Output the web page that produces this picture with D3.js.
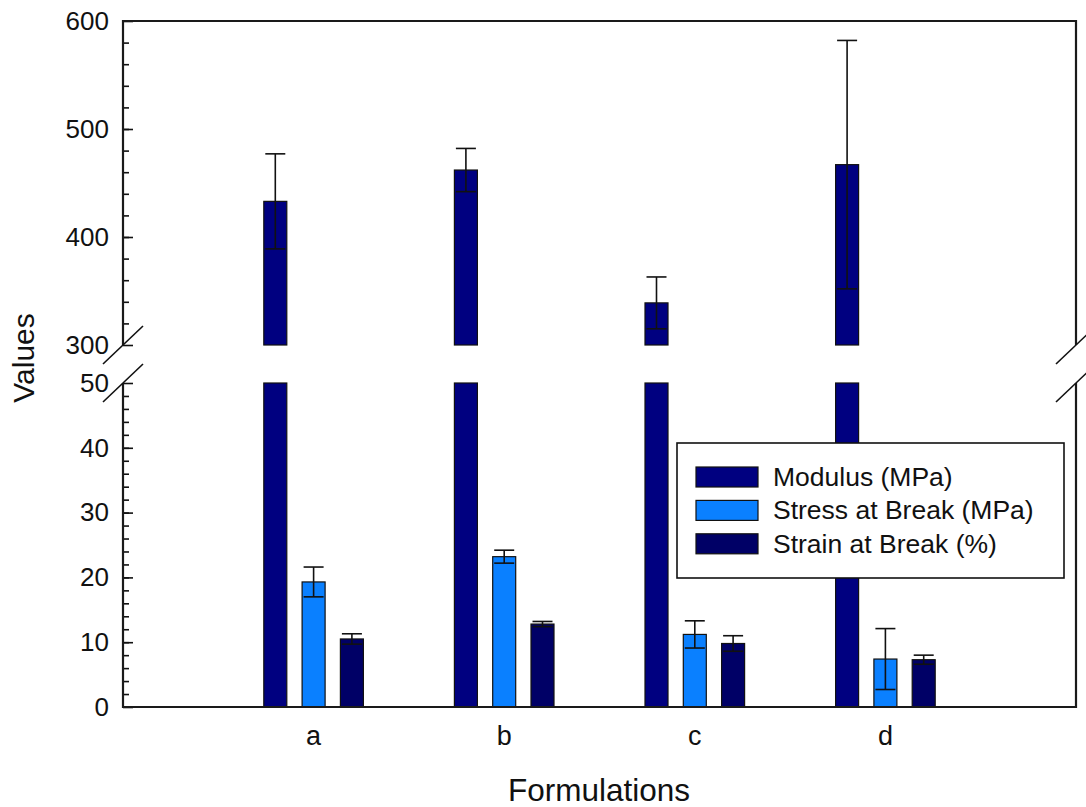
<!DOCTYPE html>
<html>
<head>
<meta charset="utf-8">
<script src="https://cdn.jsdelivr.net/npm/d3@7"></script>
<style>
  body { margin: 0; background: #fff; }
  text { font-family: 'Liberation Sans', Arial, sans-serif; fill: #111; }
</style>
</head>
<body>
<div id="chart"></div>
<script>
// data
let formulations = ['a', 'b', 'c', 'd']
let seriesNames = ['Modulus (MPa)', 'Stress at Break (MPa)', 'Strain at Break (%)']
let modulus = [433, 462, 339, 467]
let modulusErr = [44, 20, 24, 115]
let stress = [19.3, 23.2, 11.2, 7.4]
let stressErr = [2.3, 1.0, 2.1, 4.7]
let strain = [10.5, 12.8, 9.8, 7.3]
let strainErr = [0.8, 0.4, 1.2, 0.7]
let seriesColors = ['#000080', '#0a80ff', '#000066']

let upperTicks = [300, 400, 500, 600]
let lowerTicks = [0, 10, 20, 30, 40, 50]

let width = 1086
let height = 807
let margin = { top: 21, left: 123, right: 10, bottom: 100 }
let plotRight = 1076
let plotBottom = 707
let gapTop = 345
let gapBottom = 383

let svg = d3
  .select('#chart')
  .append('svg')
  .attr('width', width)
  .attr('height', height)

let x = d3
  .scalePoint()
  .domain(formulations)
  .range([margin.left, plotRight])
  .padding(1)

let xSeries = d3
  .scalePoint()
  .domain(seriesNames)
  .range([-38.3, 38.3])

let barWidth = 23

let yUpper = d3.scaleLinear().domain([300, 600]).range([gapTop, margin.top])
let yLower = d3.scaleLinear().domain([0, 50]).range([plotBottom, gapBottom])

let series = [
  { name: seriesNames[0], values: modulus, errs: modulusErr, color: seriesColors[0] },
  { name: seriesNames[1], values: stress, errs: stressErr, color: seriesColors[1] },
  { name: seriesNames[2], values: strain, errs: strainErr, color: seriesColors[2] }
]

// flatten into bar records
let bars = []
series.forEach(s => {
  formulations.forEach((f, i) => {
    bars.push({ series: s.name, cat: f, value: s.values[i], err: s.errs[i], color: s.color })
  })
})

let barX = d => x(d.cat) + xSeries(d.series) - barWidth / 2

// lower segment
svg
  .selectAll('.bar-lower')
  .data(bars)
  .enter()
  .append('rect')
  .attr('class', 'bar-lower')
  .attr('x', barX)
  .attr('width', barWidth)
  .attr('y', d => yLower(Math.min(d.value, 50)))
  .attr('height', d => yLower(0) - yLower(Math.min(d.value, 50)))
  .attr('fill', d => d.color)
  .attr('stroke', '#111')
  .attr('stroke-width', 1.2)

// upper segment, only the big ones
let bigBars = bars.filter(d => d.value > 300)
svg
  .selectAll('.bar-upper')
  .data(bigBars)
  .enter()
  .append('rect')
  .attr('class', 'bar-upper')
  .attr('x', barX)
  .attr('width', barWidth)
  .attr('y', d => yUpper(d.value))
  .attr('height', d => yUpper(300) - yUpper(d.value))
  .attr('fill', d => d.color)
  .attr('stroke', '#111')
  .attr('stroke-width', 1.2)

// error bars
let yFor = v => (v > 300 ? yUpper(v) : yLower(v))
let capHalf = 10
let errG = svg
  .selectAll('.err')
  .data(bars)
  .enter()
  .append('g')
  .attr('class', 'err')
  .attr('stroke', '#111')
  .attr('stroke-width', 1.6)
  .attr('transform', d => `translate(${x(d.cat) + xSeries(d.series)},0)`)

errG.append('line')
  .attr('y1', d => yFor(d.value + d.err))
  .attr('y2', d => yFor(d.value - d.err))
errG.append('line')
  .attr('x1', -capHalf).attr('x2', capHalf)
  .attr('y1', d => yFor(d.value + d.err))
  .attr('y2', d => yFor(d.value + d.err))
errG.append('line')
  .attr('x1', -capHalf).attr('x2', capHalf)
  .attr('y1', d => yFor(d.value - d.err))
  .attr('y2', d => yFor(d.value - d.err))

// axes
function styleAxis(g) {
  g.select('.domain').remove()
  g.selectAll('line').attr('stroke', '#111').attr('stroke-width', 1.6)
  g.selectAll('text').attr('font-size', 26).attr('fill', '#111')
    .attr('font-family', "'Liberation Sans', Arial, sans-serif")
}

svg.append('g')
  .attr('transform', `translate(${margin.left},0)`)
  .call(d3.axisLeft(yUpper).tickValues(d3.range(320, 600, 20)).tickSize(-6).tickFormat(''))
  .call(styleAxis)
svg.append('g')
  .attr('transform', `translate(${margin.left},0)`)
  .call(d3.axisLeft(yUpper).tickValues(upperTicks).tickSize(-10).tickPadding(14))
  .call(styleAxis)
svg.append('g')
  .attr('transform', `translate(${margin.left},0)`)
  .call(d3.axisLeft(yLower).tickValues(d3.range(2, 50, 2)).tickSize(-6).tickFormat(''))
  .call(styleAxis)
svg.append('g')
  .attr('transform', `translate(${margin.left},0)`)
  .call(d3.axisLeft(yLower).tickValues(lowerTicks).tickSize(-10).tickPadding(14))
  .call(styleAxis)

// frame with the break
let frame = svg.append('g').attr('stroke', '#1a1a1a').attr('stroke-width', 2.2).attr('fill', 'none')
frame.append('path').attr('d', `M${margin.left},${gapTop}V${margin.top}H${plotRight}V${gapTop}`)
frame.append('path').attr('d', `M${margin.left},${gapBottom}V${plotBottom}H${plotRight}V${gapBottom}`)

// break marks
let breaks = []
;[margin.left, plotRight].forEach(ax => {
  breaks.push({ x: ax, y: yUpper(300) })
  breaks.push({ x: ax, y: yLower(50) })
})
svg
  .selectAll('.brk')
  .data(breaks)
  .enter()
  .append('line')
  .attr('class', 'brk')
  .attr('x1', d => d.x - 20)
  .attr('y1', d => d.y + 19)
  .attr('x2', d => d.x + 20)
  .attr('y2', d => d.y - 19)
  .attr('stroke', '#111')
  .attr('stroke-width', 1.6)

// x labels
svg
  .selectAll('.xlab')
  .data(formulations)
  .enter()
  .append('text')
  .attr('class', 'xlab')
  .attr('x', d => x(d))
  .attr('y', 745)
  .attr('text-anchor', 'middle')
  .attr('font-size', 27)
  .text(d => d)

svg.append('text')
  .attr('x', 599)
  .attr('y', 801)
  .attr('text-anchor', 'middle')
  .attr('font-size', 31.5)
  .text('Formulations')

svg.append('text')
  .attr('transform', 'translate(34,358) rotate(-90)')
  .attr('text-anchor', 'middle')
  .attr('font-size', 30)
  .text('Values')

// legend
let legend = svg.append('g').attr('transform', 'translate(677,443)')
legend.append('rect')
  .attr('width', 387)
  .attr('height', 135)
  .attr('fill', '#fff')
  .attr('stroke', '#111')
  .attr('stroke-width', 1.6)

let legendItems = legend
  .selectAll('.leg')
  .data(series)
  .enter()
  .append('g')
  .attr('class', 'leg')
  .attr('transform', (d, i) => `translate(0,${34 + i * 33.4})`)

legendItems.append('rect')
  .attr('x', 19)
  .attr('y', -10)
  .attr('width', 62)
  .attr('height', 20)
  .attr('fill', d => d.color)
  .attr('stroke', '#111')
  .attr('stroke-width', 1.2)

legendItems.append('text')
  .attr('x', 96)
  .attr('y', 9)
  .attr('font-size', 26.5)
  .text(d => d.name)
</script>
</body>
</html>
